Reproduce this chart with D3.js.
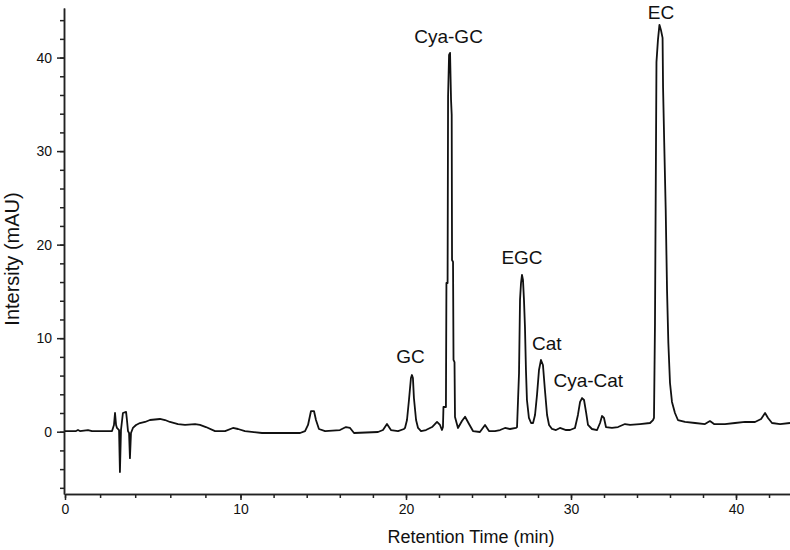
<!DOCTYPE html>
<html>
<head>
<meta charset="utf-8">
<script src="https://d3js.org/d3.v7.min.js"></script>
<style>
  body { margin: 0; background: #fff; }
  svg text { font-family: "Liberation Sans", Arial, sans-serif; fill: #111; }
  .axis path, .axis line { stroke: #222; stroke-width: 1.5px; }
  .axis text { font-size: 14px; }
  .trace { fill: none; stroke: #111; stroke-width: 1.8px; stroke-linejoin: round; }
</style>
</head>
<body>
<svg id="chart" width="790" height="550"></svg>
<script>
// chromatogram trace, [retention time (min), intensity (mAU)]
const trace = [
  [0.00,0.07],[0.63,0.07],[0.74,0.18],[0.85,0.07],[1.31,0.18],[1.54,0.07],
  [2.68,0.07],[2.79,0.72],[2.85,2.00],[2.91,0.72],[2.96,0.40],[3.08,0.18],
  [3.13,-4.31],[3.19,0.18],[3.30,2.00],[3.48,2.11],[3.53,1.25],[3.59,0.07],
  [3.65,-0.14],[3.70,-2.83],[3.76,-0.14],[3.87,0.40],[4.05,0.72],[4.27,0.93],
  [4.56,1.04],[4.84,1.25],[5.41,1.36],[5.70,1.25],[5.98,1.04],[6.44,0.82],
  [6.84,0.72],[7.41,0.82],[7.69,0.72],[8.03,0.50],[8.55,0.07],[9.12,0.07],
  [9.57,0.40],[9.86,0.29],[10.27,0.07],[11.30,-0.14],[13.60,-0.14],[13.90,0.07],
  [14.08,0.72],[14.26,2.21],[14.44,2.21],[14.56,1.25],[14.74,0.29],[15.11,0.07],
  [16.01,0.18],[16.37,0.50],[16.62,0.40],[16.86,-0.14],[18.31,-0.03],[18.61,0.18],
  [18.85,0.82],[19.09,0.18],[19.52,0.07],[19.88,0.29],[19.94,0.40],[20.06,1.25],
  [20.18,3.39],[20.30,5.74],[20.36,6.06],[20.42,5.74],[20.48,3.60],[20.61,1.25],
  [20.73,0.40],[20.91,0.07],[21.21,0.18],[21.58,0.50],[21.88,1.04],[22.06,0.72],
  [22.18,0.18],[22.24,0.50],[22.27,2.64],[22.42,2.64],[22.45,15.90],[22.52,15.90],
  [22.55,35.80],[22.61,40.29],[22.67,40.50],[22.73,35.47],[22.77,33.87],[22.79,18.36],
  [22.85,18.15],[22.88,7.67],[22.94,7.45],[22.97,1.57],[23.15,0.40],[23.39,1.14],
  [23.58,1.60],[23.82,0.82],[24.06,0.07],[24.48,-0.03],[24.79,0.72],[25.03,0.07],
  [25.39,0.07],[25.70,0.18],[26.00,0.40],[26.30,0.29],[26.67,0.40],[26.73,0.50],
  [26.79,3.39],[26.85,6.28],[26.91,14.09],[26.97,15.90],[27.03,16.76],[27.09,16.22],
  [27.15,14.09],[27.21,11.20],[27.27,6.60],[27.33,3.39],[27.45,1.47],[27.58,0.93],
  [27.70,0.93],[27.82,1.79],[27.94,3.93],[28.06,6.60],[28.18,7.67],[28.30,7.13],
  [28.42,4.46],[28.55,1.79],[28.67,0.72],[28.85,0.29],[29.09,0.18],[29.33,0.40],
  [29.70,0.18],[29.94,0.18],[30.24,0.40],[30.42,1.79],[30.55,3.18],[30.67,3.60],
  [30.79,3.39],[30.91,2.11],[31.03,0.72],[31.27,0.29],[31.58,0.18],[31.76,0.93],
  [31.88,1.68],[32.00,1.47],[32.12,0.50],[32.48,0.40],[32.85,0.50],[33.27,0.82],
  [33.58,0.72],[34.18,0.82],[34.79,0.93],[34.97,1.25],[35.03,1.47],[35.09,11.62],
  [35.18,39.54],[35.27,41.89],[35.36,43.50],[35.45,42.96],[35.55,42.10],[35.58,36.76],
  [35.65,30.88],[35.74,23.71],[35.82,15.15],[35.90,9.49],[36.00,5.21],[36.12,3.18],
  [36.30,2.00],[36.48,1.25],[36.91,1.04],[37.52,0.93],[38.12,0.82],[38.42,1.14],
  [38.67,0.82],[39.33,0.82],[39.94,0.93],[40.55,1.04],[41.15,1.04],[41.52,1.36],
  [41.76,2.00],[41.94,1.47],[42.18,0.93],[42.67,0.82],[43.27,0.93]
];

// peak annotations: name, time and height of the label
const peakNames  = ['GC', 'Cya-GC', 'EGC', 'Cat', 'Cya-Cat', 'EC'];
const peakTimes  = [20.27, 22.58, 27.03, 28.53, 31.05, 35.45];
const peakLabelY = [7.35, 41.57, 17.9, 8.74, 4.75, 44.14];

const xMajor = [0, 10, 20, 30, 40];
const xMinor = d3.range(0, 43, 2);
const yMajor = [0, 10, 20, 30, 40];
const yMinor = d3.range(-6, 45, 2);

const svg = d3.select('#chart');

// the scanned axis is not quite even, so the scale is piecewise
const x = d3.scaleLinear()
  .domain([0, 10, 20, 30, 40, 43.27])
  .range([65, 240.5, 406, 571, 736, 790]);

const y = d3.scaleLinear()
  .domain([-6.66, 45.3])
  .range([494, 8]);

// minor ticks first, majors on top
svg.append('g').attr('class', 'axis')
  .attr('transform', 'translate(0,494)')
  .call(d3.axisBottom(x).tickValues(xMinor).tickSize(4).tickSizeOuter(0).tickFormat(''));
svg.append('g').attr('class', 'axis')
  .attr('transform', 'translate(0,494)')
  .call(d3.axisBottom(x).tickValues(xMajor).tickSize(6).tickSizeOuter(0).tickPadding(4));

svg.append('g').attr('class', 'axis')
  .attr('transform', 'translate(64,0)')
  .call(d3.axisLeft(y).tickValues(yMinor).tickSize(4).tickSizeOuter(0).tickFormat(''));
svg.append('g').attr('class', 'axis')
  .attr('transform', 'translate(64,0)')
  .call(d3.axisLeft(y).tickValues(yMajor).tickSize(7).tickSizeOuter(0).tickPadding(5));

svg.selectAll('.axis .domain').attr('stroke', '#222');

const line = d3.line()
  .x((d) => x(d[0]))
  .y((d) => y(d[1]));

svg.append('path')
  .datum(trace)
  .attr('class', 'trace')
  .attr('d', line);

svg.selectAll('text.peak')
  .data(peakNames)
  .enter().append('text')
  .attr('class', 'peak')
  .attr('x', (d, i) => x(peakTimes[i]))
  .attr('y', (d, i) => y(peakLabelY[i]))
  .attr('text-anchor', 'middle')
  .style('font-size', '19px')
  .text((d) => d);

svg.append('text')
  .attr('x', 471)
  .attr('y', 543)
  .attr('text-anchor', 'middle')
  .style('font-size', '18px')
  .text('Retention Time (min)');

svg.append('text')
  .attr('transform', 'translate(19,259) rotate(-90)')
  .attr('text-anchor', 'middle')
  .style('font-size', '20px')
  .text('Intersity (mAU)');
</script>
</body>
</html>
